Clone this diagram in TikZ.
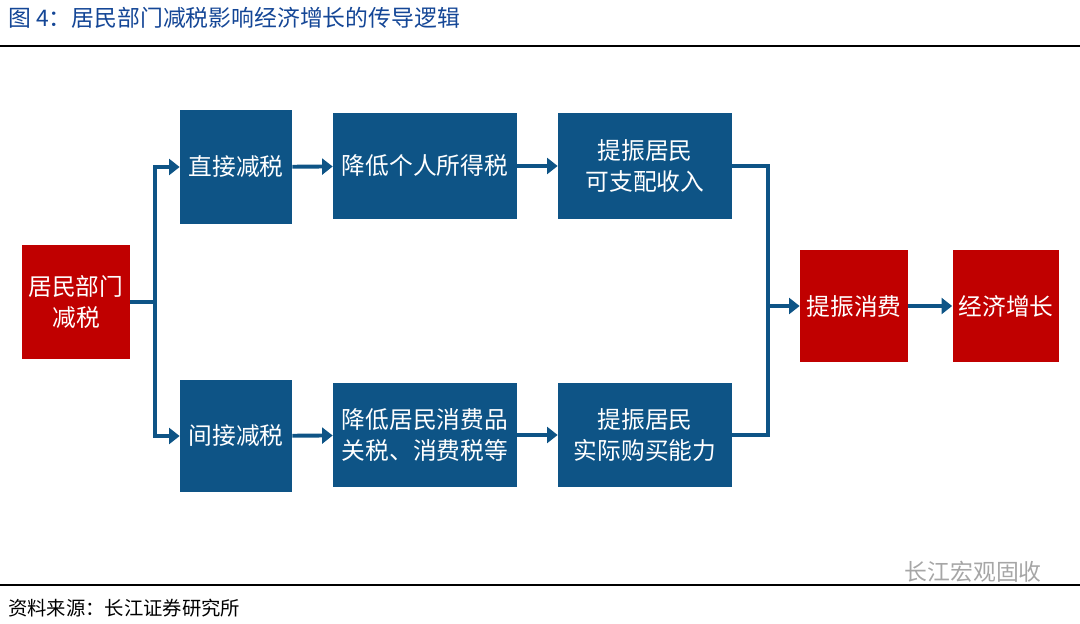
\documentclass[tikz,border=0pt]{standalone}
\usepackage{fontspec}
\setmainfont{Noto Sans CJK SC}
\usetikzlibrary{arrows.meta}
\definecolor{boxblue}{RGB}{14,84,134}
\definecolor{boxred}{RGB}{192,0,0}
\definecolor{titleblue}{RGB}{20,70,150}
\tikzset{
	box/.style={fill=#1, text=white, align=center, inner sep=0pt, font=\fontsize{13.5pt}{18pt}\selectfont},
	link/.style={boxblue, line width=2.2pt},
	arr/.style={link, -{Triangle[length=6pt,width=9pt]}}
}
\begin{document}
\begin{tikzpicture}[x=0.02cm,y=-0.02cm]
	\useasboundingbox (0,0) rectangle (1080,623);
	\node[anchor=west, text=titleblue, font=\fontsize{13pt}{15pt}\selectfont] (title) at (2,18) {图 4：居民部门减税影响经济增长的传导逻辑};
	\draw[line width=1pt] (0,46) -- (1080,46);
	\draw[line width=1pt] (0,585) -- (1080,585);
	\node[anchor=west, font=\fontsize{11pt}{13pt}\selectfont] (src) at (2,608) {资料来源：长江证券研究所};
	\node[anchor=east, text=black!35, font=\fontsize{13pt}{15pt}\selectfont] (mark) at (1048,572) {长江宏观固收};
	% boxes
	\node[box=boxred, minimum width=2.16cm, minimum height=2.3cm] (jm) at (76,302) {居民部门\\减税};
	\node[box=boxblue, minimum width=2.24cm, minimum height=2.28cm] (zj) at (236,167) {直接减税};
	\node[box=boxblue, minimum width=2.24cm, minimum height=2.26cm] (jj) at (236,436) {间接减税};
	\node[box=boxblue, minimum width=3.68cm, minimum height=2.14cm] (gs) at (425,166) {降低个人所得税};
	\node[box=boxblue, minimum width=3.68cm, minimum height=2.1cm] (xf) at (425,435) {降低居民消费品\\关税、消费税等};
	\node[box=boxblue, minimum width=3.48cm, minimum height=2.14cm] (sr) at (645,166) {提振居民\\可支配收入};
	\node[box=boxblue, minimum width=3.48cm, minimum height=2.1cm] (gm) at (645,435) {提振居民\\实际购买能力};
	\node[box=boxred, minimum width=2.16cm, minimum height=2.26cm] (tz) at (854,306) {提振消费};
	\node[box=boxred, minimum width=2.14cm, minimum height=2.26cm] (zz) at (1006,306) {经济增长};
	% connectors
	\coordinate (sl) at (155,302);
	\coordinate (sr1) at (768,306);
	\draw[link] (jm.east |- sl) -- (sl);
	\draw[arr] (sl) |- (zj.west);
	\draw[arr] (sl) |- (jj.west);
	\draw[arr] (zj) -- (gs);
	\draw[arr] (jj) -- (xf);
	\draw[arr] (gs) -- (sr);
	\draw[arr] (xf) -- (gm);
	\draw[link] (sr.east) -| (sr1) |- (gm.east);
	\draw[arr] (sr1) -- (tz.west);
	\draw[arr] (tz) -- (zz);
\end{tikzpicture}
\end{document}
